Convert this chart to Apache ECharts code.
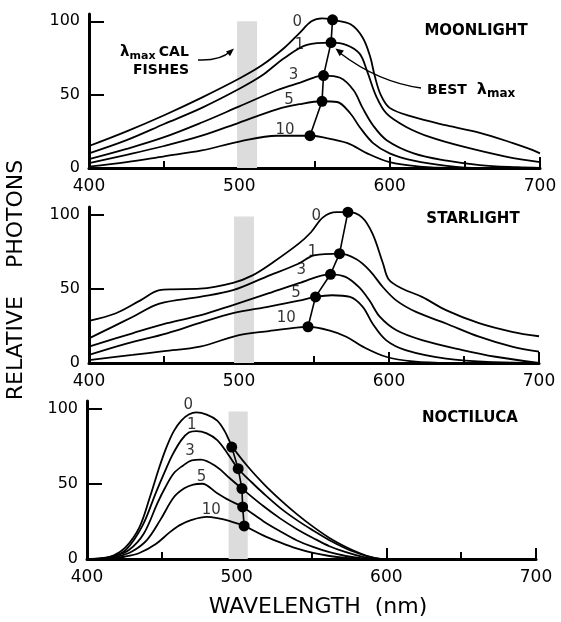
<!DOCTYPE html>
<html>
<head>
<meta charset="utf-8">
<script src="https://cdn.jsdelivr.net/npm/echarts@6/dist/echarts.min.js"></script>
<style>
body{margin:0;background:#fff;}
#chart{width:561px;height:622px;}
</style>
</head>
<body>
<div id="chart"></div>
<script>
// depth labels for the curves (m of water)
var depths = ['0', '1', '3', '5', '10'];

// MOONLIGHT curves [wavelength nm, relative photons]
var moon_0 = [[400,15],[425,25],[450,36],[475,48],[500,61],[515,70],[530,82],[540,92],[548,100],[555,102],[562,101],[574,98],[582,89],[587,76],[590,63],[594,50],[600,41],[615,35],[638,29],[660,24],[682,17],[693,13],[700,10]];
var moon_1 = [[400,10],[425,19],[450,30],[475,41],[500,54],[515,63],[530,75],[545,84],[561,85.5],[571,84],[580,78],[585,66],[591,49],[598,37],[611,28],[627,21],[649,14.5],[678,7.6],[700,4]];
var moon_3 = [[400,6],[425,13],[450,21],[475,31],[500,42],[525,53],[540,58],[556,63],[567,61.5],[576,53],[582,41],[589,29],[598,19],[616,10],[638,5],[660,2],[685,0.5],[700,0]];
var moon_5 = [[400,3.4],[425,9],[450,15],[475,22],[500,31],[525,40],[540,43.5],[555,45.5],[565,45],[574,37],[580,28],[589,17],[600,10],[616,5],[638,1.5],[660,0],[700,0]];
var moon_10 = [[400,1],[425,4],[450,8],[475,12],[500,18],[525,22],[547,22],[555,21],[572,17],[585,10],[600,4],[620,1],[640,0],[700,0]];
var moon_best = [[562,101],[561,85.5],[556,63],[555,45.5],[547,22]];
var moon_tags = [[538.6,99.5],[540,84],[536,63],[533,46.4],[530.4,26]];
var moon_band = [498.5, 511.8, 100];

// STARLIGHT curves
var star_0 = [[400,28.4],[418,33.5],[434,42],[447,49],[456,49.6],[474,50],[496,54],[509,59],[523,68],[540,80.5],[548,88],[556,98],[565,101.5],[573,101.5],[582,98],[589,87],[596,67],[600,56],[609,50],[622,44.5],[638,35.6],[660,26.8],[682,21],[700,18]];
var star_1 = [[400,16.6],[415,24],[429,31],[447,40],[474,44.5],[496,49],[518,58],[540,67],[550,72.5],[567,73.6],[578,70],[587,62.4],[596,51],[605,42],[618,34.4],[638,26.6],[660,17.7],[682,11],[700,7.6]];
var star_3 = [[400,11],[429,20],[452,26.8],[474,32],[496,39],[520,47],[540,53.7],[561,59.7],[571,58],[580,51],[587,42],[594,31],[605,22],[622,15.4],[649,8.7],[671,4.2],[700,0]];
var star_5 = [[400,5.4],[425,13],[452,20],[474,27],[496,33.5],[520,38],[540,42],[551,44.5],[562,45.6],[574,44.5],[582.5,37.8],[589,26.6],[598,15.4],[611,8.7],[638,3],[670,0.5],[700,0]];
var star_10 = [[400,2],[429,5.4],[450,8],[474,11],[500,18.8],[520,21.5],[540,24],[546,24.4],[560,22],[571.5,17.7],[582.5,11],[598,4.2],[616,1],[640,0],[700,0]];
var star_best = [[572.6,101.5],[567,73.6],[561,59.7],[551,44.5],[546,24.4]];
var star_tags = [[551.5,99],[549,74.7],[541.5,62.4],[538,47],[531.5,30]];
var star_band = [496.7, 510, 98.6];

// NOCTILUCA curves
var noct_0 = [[400,0],[410,0.5],[418,2.5],[426,8],[435,21],[442,41],[448,60],[453,74],[458,85],[463,92],[468,96],[473,97.5],[480,96],[487,92],[492,85],[497,75],[507,62],[518,50],[529,39.5],[540,30],[551,21.5],[562,14],[573,8],[582,4],[590,1.2],[596,0]];
var noct_1 = [[400,0],[410,0.4],[418,2],[426,6],[437,22],[446,44],[452,58],[457,69],[463,79],[468,84],[473,85],[480,83.5],[487,79],[494,70],[501,60],[510,51],[518,43.5],[529,34],[540,26],[551,19],[562,12.5],[573,7],[582,3.5],[590,1],[596,0]];
var noct_3 = [[400,0],[410,0.3],[418,1.8],[428,6],[438,17],[447,37],[452,47],[458,57],[464,62],[470,65.5],[476,66],[487,61],[495,54],[503.5,46.8],[518,35],[529,27],[540,20],[551,14],[562,8.5],[573,4.5],[585,1.2],[593,0]];
var noct_5 = [[400,0],[410,0.2],[420,1.5],[430,5],[440,12.6],[449,26],[458,41],[465,47],[471,49.5],[477,50],[487,43.7],[495,39],[504,34.6],[518,25],[529,18.5],[540,12.5],[551,8],[562,4.5],[573,2],[588,0]];
var noct_10 = [[400,0],[415,0.3],[425,1.5],[435,4],[446,10],[455,17.5],[462,22.5],[470,26],[480,28],[488,27],[495,25.3],[505,22],[517,16],[529,11],[540,7],[551,4],[562,2],[573,0.8],[586,0]];
var noct_best = [[496.7,74.4],[501,60],[503.5,46.8],[504,34.6],[505,22]];
var noct_tags = [[467.7,102],[470,88.7],[468.8,72],[476.6,54.5],[483,32.5]];
var noct_band = [494.6, 507.4, 98];

var panel_names = ['MOONLIGHT', 'STARLIGHT', 'NOCTILUCA'];

var FONT = 'DejaVu Sans';

var chart = echarts.init(document.getElementById('chart'));

var grids = [
    {left: 89, right: 21, top: 14, height: 154},
    {left: 89, right: 22, top: 207, height: 156},
    {left: 87, right: 25, top: 401, height: 158}
];

function make_x(i) {
    return {
        type: 'value', gridIndex: i, min: 400, max: 700, interval: 100,
        axisLine: {show: true, lineStyle: {color: '#000', width: 3}},
        axisTick: {show: true, inside: true, length: 11, lineStyle: {color: '#000', width: 2}},
        minorTick: {show: true, splitNumber: 2, length: 7, lineStyle: {color: '#000', width: 2}},
        splitLine: {show: false},
        minorSplitLine: {show: false},
        axisLabel: {color: '#000', fontSize: 17, fontFamily: FONT, margin: 10}
    };
}

function make_y(i) {
    return {
        type: 'value', gridIndex: i, min: 0, max: 105, interval: 50,
        axisLine: {show: true, lineStyle: {color: '#000', width: 3}},
        axisTick: {show: true, inside: true, length: 15, lineStyle: {color: '#000', width: 2}, customValues: [0, 50, 100]},
        splitLine: {show: false},
        axisLabel: {
            color: '#000', fontSize: 16, fontFamily: FONT, margin: 9,
            customValues: [0, 50, 100],
            formatter: function (v) { return v % 50 === 0 ? String(v) : ''; }
        }
    };
}

var panels = [
    {curves: [moon_0, moon_1, moon_3, moon_5, moon_10], best: moon_best, tags: moon_tags, band: moon_band},
    {curves: [star_0, star_1, star_3, star_5, star_10], best: star_best, tags: star_tags, band: star_band},
    {curves: [noct_0, noct_1, noct_3, noct_5, noct_10], best: noct_best, tags: noct_tags, band: noct_band}
];

var series = [];
panels.forEach(function (p, i) {
    // shaded lambda-max band
    series.push({
        type: 'line', xAxisIndex: i, yAxisIndex: i, data: [], z: 1, silent: true,
        markArea: {
            silent: true,
            itemStyle: {color: '#dcdcdc'},
            data: [[{coord: [p.band[0], 0]}, {coord: [p.band[1], p.band[2]]}]]
        }
    });
    p.curves.forEach(function (c) {
        series.push({
            type: 'line', xAxisIndex: i, yAxisIndex: i, data: c,
            smooth: 0.35, symbol: 'none', clip: false, silent: true, z: 3,
            lineStyle: {color: '#000', width: 1.8}
        });
    });
    // best lambda max dots joined
    series.push({
        type: 'line', xAxisIndex: i, yAxisIndex: i, data: p.best,
        symbol: 'circle', symbolSize: 11, clip: false, silent: true, z: 5,
        itemStyle: {color: '#000'},
        lineStyle: {color: '#000', width: 1.6}
    });
    // depth numbers
    series.push({
        type: 'scatter', xAxisIndex: i, yAxisIndex: i, symbolSize: 0, silent: true, z: 6,
        data: p.tags.map(function (t, k) { return {value: t, name: depths[k]}; }),
        label: {show: true, position: 'inside', formatter: '{b}', color: '#000', fontSize: 15, fontFamily: FONT}
    });
});

var graphics = [
    {type: 'text', x: 16, y: 280, rotation: Math.PI / 2,
        style: {text: 'RELATIVE    PHOTONS', font: '22px "DejaVu Sans"', fill: '#000', textAlign: 'center', textVerticalAlign: 'middle'}},
    {type: 'text', x: 318, y: 607,
        style: {text: 'WAVELENGTH  (nm)', font: '22px "DejaVu Sans"', fill: '#000', textAlign: 'center', textVerticalAlign: 'middle'}},
    {type: 'text', x: 476, y: 31,
        style: {text: panel_names[0], font: 'bold 15px "DejaVu Sans"', fill: '#000', textAlign: 'center', textVerticalAlign: 'middle'}},
    {type: 'text', x: 473, y: 219,
        style: {text: panel_names[1], font: 'bold 15px "DejaVu Sans"', fill: '#000', textAlign: 'center', textVerticalAlign: 'middle'}},
    {type: 'text', x: 470, y: 418,
        style: {text: panel_names[2], font: 'bold 15px "DejaVu Sans"', fill: '#000', textAlign: 'center', textVerticalAlign: 'middle'}},
    // lambda max CAL fishes note
    {type: 'text', x: 120, y: 52,
        style: {
            text: '{l|λ}{s|max} {b|CAL}',
            rich: {
                l: {font: 'bold 15px "DejaVu Sans"', fill: '#000'},
                s: {font: 'bold 11px "DejaVu Sans"', fill: '#000', padding: [8, 0, 0, 0]},
                b: {font: 'bold 14px "DejaVu Sans"', fill: '#000'}
            },
            textVerticalAlign: 'middle'
        }},
    {type: 'text', x: 161, y: 70,
        style: {text: 'FISHES', font: 'bold 14px "DejaVu Sans"', fill: '#000', textAlign: 'center', textVerticalAlign: 'middle'}},
    {type: 'bezierCurve', shape: {x1: 198, y1: 60, cpx1: 220, cpy1: 61, x2: 231, y2: 51},
        style: {stroke: '#000', lineWidth: 1.5, fill: null}},
    {type: 'polygon', shape: {points: [[234, 48.5], [230, 56.2], [226, 51.6]]}, style: {fill: '#000'}},
    // best lambda max note
    {type: 'text', x: 427, y: 90,
        style: {
            text: '{b|BEST}   {l|λ}{s|max}',
            rich: {
                b: {font: 'bold 14px "DejaVu Sans"', fill: '#000'},
                l: {font: 'bold 16px "DejaVu Sans"', fill: '#000'},
                s: {font: 'bold 12px "DejaVu Sans"', fill: '#000', padding: [8, 0, 0, 0]}
            },
            textVerticalAlign: 'middle'
        }},
    {type: 'bezierCurve', shape: {x1: 421, y1: 88, cpx1: 378, cpy1: 82, x2: 340, y2: 53},
        style: {stroke: '#000', lineWidth: 1.5, fill: null}},
    {type: 'polygon', shape: {points: [[335.5, 48.5], [343.9, 50.6], [339.7, 56.2]]}, style: {fill: '#000'}}
];

var option = {
    backgroundColor: '#fff',
    animation: false,
    grid: grids,
    xAxis: [make_x(0), make_x(1), make_x(2)],
    yAxis: [make_y(0), make_y(1), make_y(2)],
    series: series,
    graphic: graphics
};

chart.setOption(option);
</script>
</body>
</html>
